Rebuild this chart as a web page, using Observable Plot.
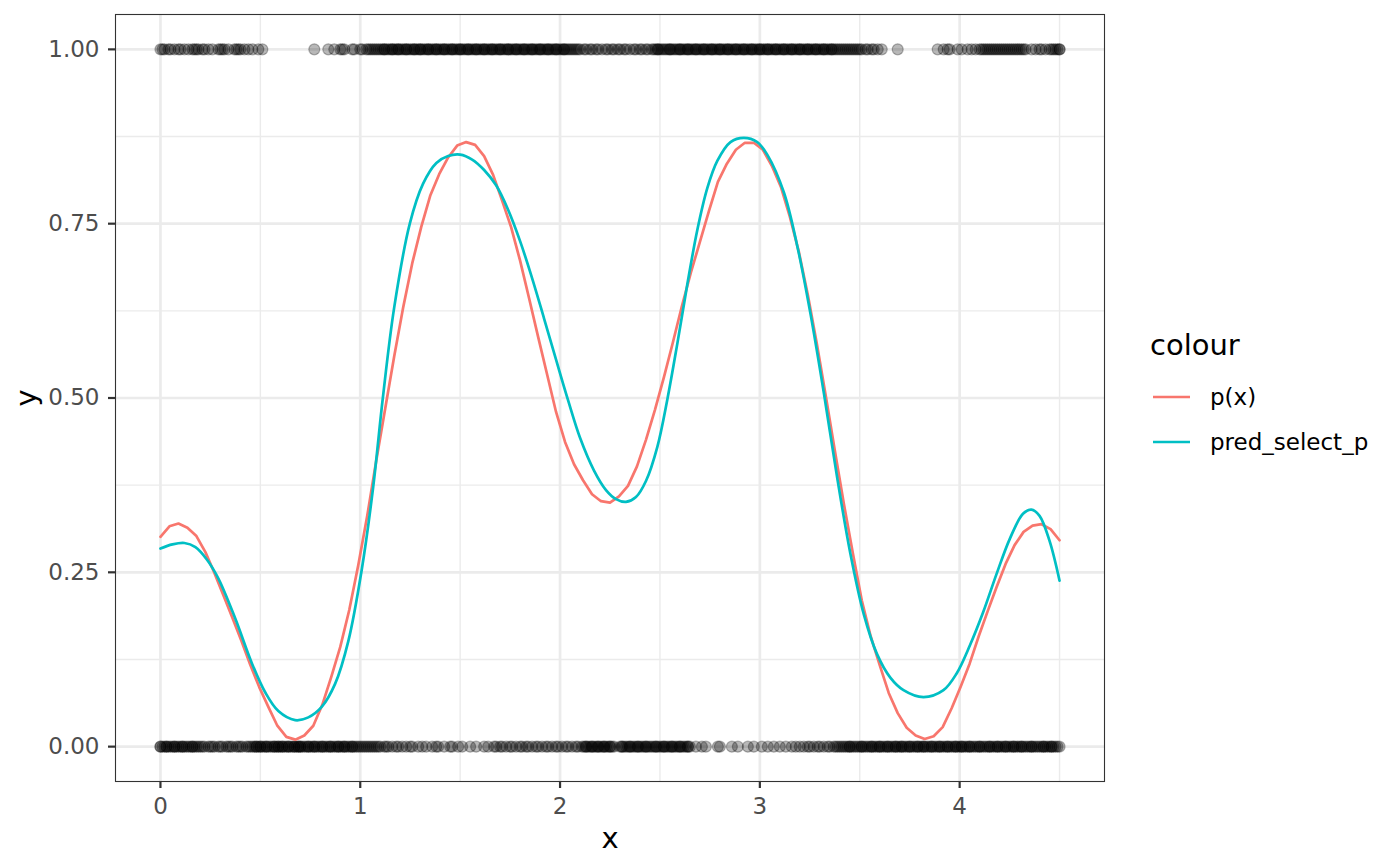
<!DOCTYPE html>
<html><head><meta charset="utf-8">
<script src="https://cdn.jsdelivr.net/npm/d3@7"></script>
<script src="https://cdn.jsdelivr.net/npm/@observablehq/plot@0.6"></script>
<style>
body{margin:0;background:#fff;}
#wrap{position:relative;width:1400px;height:866px;font-family:"DejaVu Sans",sans-serif;background:#fff;}
#chart{position:absolute;left:0;top:0;}
.lg{position:absolute;white-space:nowrap;line-height:1;color:#000;}
</style></head>
<body><div id="wrap"><div id="chart"></div><div id="legend"></div></div>
<script>
// ---- data ----
const seriesNames = ["p(x)", "pred_select_p"];
const seriesColors = ["#F8766D", "#00BFC4"];

const pX = [0.00,0.045,0.09,0.135,0.18,0.225,0.27,0.315,0.36,0.405,0.45,0.495,0.54,0.585,0.63,0.675,0.72,0.765,0.81,0.855,0.90,0.945,0.99,1.035,1.08,1.125,1.17,1.215,1.26,1.305,1.35,1.395,1.44,1.485,1.53,1.575,1.62,1.665,1.71,1.755,1.80,1.845,1.89,1.935,1.98,2.025,2.07,2.115,2.16,2.205,2.25,2.295,2.34,2.385,2.43,2.475,2.52,2.565,2.61,2.655,2.70,2.745,2.79,2.835,2.88,2.925,2.97,3.015,3.06,3.105,3.15,3.195,3.24,3.285,3.33,3.375,3.42,3.465,3.51,3.555,3.60,3.645,3.69,3.735,3.78,3.825,3.87,3.915,3.96,4.005,4.05,4.095,4.14,4.185,4.23,4.275,4.32,4.365,4.41,4.455,4.50];
const pY = [0.301,0.316,0.320,0.314,0.302,0.279,0.249,0.217,0.185,0.152,0.117,0.085,0.057,0.030,0.014,0.010,0.016,0.030,0.060,0.100,0.143,0.196,0.260,0.331,0.410,0.485,0.560,0.630,0.693,0.745,0.790,0.821,0.845,0.862,0.867,0.863,0.847,0.820,0.783,0.745,0.697,0.643,0.588,0.534,0.480,0.437,0.405,0.382,0.362,0.352,0.350,0.359,0.374,0.402,0.440,0.483,0.530,0.580,0.632,0.680,0.724,0.768,0.810,0.836,0.856,0.866,0.866,0.856,0.833,0.803,0.760,0.710,0.648,0.578,0.503,0.425,0.349,0.278,0.210,0.158,0.117,0.077,0.048,0.027,0.016,0.011,0.015,0.028,0.055,0.086,0.119,0.158,0.194,0.229,0.262,0.289,0.308,0.317,0.319,0.312,0.296];

const predX = [0.00,0.06,0.12,0.175,0.233,0.29,0.374,0.457,0.524,0.59,0.674,0.74,0.807,0.874,0.94,1.007,1.065,1.113,1.17,1.248,1.314,1.381,1.44,1.50,1.56,1.62,1.68,1.74,1.80,1.86,1.92,1.98,2.04,2.10,2.17,2.23,2.28,2.33,2.38,2.43,2.487,2.537,2.587,2.637,2.687,2.737,2.787,2.853,2.92,2.987,3.037,3.12,3.188,3.254,3.321,3.387,3.453,3.52,3.586,3.653,3.719,3.819,3.919,3.985,4.051,4.118,4.184,4.251,4.317,4.359,4.40,4.45,4.50];
const predY = [0.284,0.290,0.292,0.286,0.268,0.241,0.184,0.120,0.078,0.051,0.038,0.042,0.057,0.090,0.151,0.253,0.373,0.500,0.630,0.750,0.807,0.837,0.847,0.849,0.842,0.827,0.805,0.770,0.725,0.672,0.614,0.555,0.497,0.443,0.396,0.368,0.355,0.351,0.358,0.381,0.430,0.498,0.578,0.663,0.741,0.801,0.840,0.867,0.873,0.867,0.849,0.795,0.717,0.620,0.506,0.386,0.277,0.190,0.133,0.099,0.081,0.071,0.081,0.105,0.145,0.193,0.247,0.298,0.334,0.340,0.331,0.295,0.238];

// observations with y = 1
const yOneX = [0.00,0.01,0.02,0.04,0.05,0.07,0.09,0.10,0.12,0.14,0.16,0.17,0.18,0.19,0.21,0.22,0.24,0.26,0.29,0.30,0.31,0.32,0.34,0.37,0.38,0.39,0.40,0.42,0.44,0.46,0.49,0.51,
0.77,0.84,0.87,0.90,0.91,0.92,0.96,0.97,1.00,1.01,1.03,1.04,1.05,1.06,1.07,1.08,1.09,
1.10,1.11,1.12,1.12,1.13,1.14,1.15,1.16,1.16,1.17,1.18,1.19,1.19,
1.20,1.21,1.22,1.23,1.23,1.24,1.25,1.26,1.27,1.27,1.28,1.29,
1.30,1.30,1.31,1.32,1.33,1.34,1.34,1.35,1.36,1.37,1.38,1.38,1.39,
1.40,1.41,1.42,1.42,1.43,1.44,1.45,1.46,1.46,1.47,1.48,1.49,
1.50,1.50,1.51,1.52,1.53,1.54,1.54,1.55,1.56,1.57,1.58,1.58,1.59,
1.60,1.61,1.62,1.62,1.63,1.64,1.65,1.66,1.66,1.67,1.68,1.69,
1.70,1.70,1.71,1.72,1.73,1.74,1.74,1.75,1.76,1.77,1.78,1.78,1.79,
1.80,1.81,1.82,1.82,1.83,1.84,1.85,1.86,1.86,1.87,1.88,1.89,
1.90,1.90,1.91,1.92,1.93,1.94,1.94,1.95,1.96,1.97,1.98,1.98,1.99,
2.00,2.01,2.02,2.02,2.03,2.04,2.05,2.06,2.07,2.08,2.09,
2.10,2.12,2.13,2.15,2.16,2.18,2.19,2.21,2.23,2.24,2.26,2.27,2.29,2.30,2.32,2.33,2.35,2.37,2.38,2.40,2.41,2.43,2.44,
2.46,2.47,2.48,2.49,2.49,
2.50,2.51,2.52,2.53,2.54,2.55,2.55,2.56,2.57,2.58,2.59,
2.60,2.60,2.61,2.62,2.63,2.64,2.64,2.65,2.66,2.67,2.68,2.68,2.69,
2.70,2.71,2.72,2.72,2.73,2.74,2.75,2.76,2.76,2.77,2.78,2.79,
2.80,2.80,2.81,2.82,2.83,2.84,2.84,2.85,2.86,2.87,2.88,2.88,2.89,
2.90,2.91,2.92,2.92,2.93,2.94,2.95,2.96,2.96,2.97,2.98,2.99,
3.00,3.00,3.01,3.02,3.03,3.04,3.04,3.05,3.06,3.07,3.08,3.08,3.09,
3.10,3.11,3.12,3.12,3.13,3.14,3.15,3.16,3.16,3.17,3.18,3.19,
3.20,3.20,3.21,3.22,3.23,3.24,3.24,3.25,3.26,3.27,3.28,3.28,3.29,
3.30,3.31,3.32,3.32,3.33,3.34,3.35,3.36,3.36,3.37,3.38,3.39,
3.40,3.41,3.42,3.43,3.44,3.45,3.46,3.47,3.48,3.49,
3.50,3.51,3.53,3.54,3.56,3.57,3.59,3.61,3.69,
3.89,3.92,3.94,3.95,3.99,4.01,4.04,4.06,4.08,4.10,
4.11,4.12,4.13,4.14,4.15,4.16,4.17,4.18,4.19,4.20,4.21,4.22,4.23,4.24,4.25,4.26,4.27,4.28,4.29,4.30,4.31,4.32,4.33,
4.36,4.38,4.40,4.41,4.43,4.45,4.46,4.47,4.48,4.49,4.50,4.50];

// observations with y = 0
const yZeroX = [0.00,0.00,0.01,0.02,0.03,0.03,0.04,0.05,0.06,0.07,0.07,0.08,0.09,
0.10,0.11,0.11,0.12,0.13,0.14,0.15,0.16,0.16,0.17,0.18,0.19,
0.20,0.21,0.22,0.24,0.25,0.26,0.27,0.29,
0.30,0.31,0.33,0.34,0.35,0.36,0.38,0.39,
0.40,0.41,0.43,0.44,0.45,0.46,0.47,0.48,0.48,0.49,
0.50,0.50,0.51,0.52,0.53,0.53,0.54,0.55,0.56,0.57,0.57,0.58,0.59,0.59,
0.60,0.61,0.61,0.62,0.63,0.64,0.64,0.65,0.66,0.67,0.67,0.68,0.69,0.69,
0.70,0.70,0.71,0.72,0.73,0.74,0.74,0.75,0.76,0.77,0.77,0.78,0.79,
0.80,0.81,0.81,0.82,0.83,0.84,0.85,0.85,0.86,0.87,0.88,0.89,0.89,
0.90,0.91,0.92,0.92,0.93,0.94,0.95,0.96,0.96,0.97,0.98,0.99,
1.00,1.01,1.02,1.03,1.04,1.05,1.06,1.07,
1.08,1.09,1.10,1.12,1.13,1.14,1.16,1.18,1.19,
1.21,1.23,1.25,1.26,1.29,1.31,1.33,1.36,1.38,1.39,1.42,1.45,1.46,1.49,
1.51,1.55,1.58,1.62,1.64,
1.67,1.68,1.70,1.71,1.73,1.75,1.76,1.78,1.80,1.81,1.83,1.84,1.86,1.88,1.89,1.91,1.93,1.94,1.96,1.98,1.99,2.01,2.03,2.04,2.06,2.08,2.09,2.11,
2.12,2.13,2.13,2.14,2.15,2.16,2.16,2.17,2.18,2.19,2.19,2.20,2.21,2.22,2.22,2.23,2.24,2.25,2.25,2.26,2.27,
2.30,2.31,2.31,2.32,2.33,2.34,2.35,2.35,2.36,2.37,2.38,2.39,2.39,2.40,2.41,2.42,2.43,2.43,2.44,2.45,2.46,2.47,2.48,2.48,2.49,
2.50,2.51,2.52,2.52,2.53,2.54,2.55,2.56,2.56,2.57,2.58,2.59,2.60,2.60,2.61,2.62,2.63,2.64,2.64,2.65,
2.68,2.71,2.73,2.79,2.80,2.86,2.89,2.94,2.97,3.01,3.04,3.07,3.10,3.13,
3.16,3.18,3.20,3.22,3.24,3.25,3.27,3.29,3.30,3.32,3.34,3.35,3.37,3.38,3.39,
3.40,3.41,3.42,3.43,3.44,3.45,3.45,3.46,3.47,3.48,3.49,
3.50,3.51,3.51,3.52,3.53,3.54,3.55,3.56,3.56,3.57,3.58,3.59,
3.60,3.60,3.61,3.62,3.63,3.64,3.64,3.65,3.66,3.67,3.68,3.68,3.69,
3.70,3.71,3.71,3.72,3.73,3.74,3.75,3.75,3.76,3.77,3.78,3.79,3.79,
3.80,3.81,3.82,3.82,3.83,3.84,3.85,3.86,3.86,3.87,3.88,3.89,
3.90,3.90,3.91,3.92,3.93,3.94,3.94,3.95,3.96,3.97,3.98,3.98,3.99,
4.00,4.01,4.01,4.02,4.03,4.04,4.05,4.05,4.06,4.07,4.08,4.09,
4.10,4.10,4.11,4.12,4.13,4.14,4.15,4.15,4.16,4.17,4.18,4.19,4.19,
4.20,4.21,4.22,4.23,4.23,4.24,4.25,4.26,4.27,4.27,4.28,4.29,
4.30,4.31,4.31,4.32,4.33,4.34,4.35,4.36,4.36,4.37,4.38,4.39,
4.40,4.41,4.42,4.42,4.43,4.44,4.45,4.46,4.46,4.47,4.48,4.49,4.50];

const xMajor = [0, 1, 2, 3, 4];
const xMinor = [0.5, 1.5, 2.5, 3.5, 4.5];
const yMajor = [0, 0.25, 0.5, 0.75, 1];
const yMinor = [0.125, 0.375, 0.625, 0.875];

// ---- tables ----
const points = [
  ...yOneX.map(x => ({x, y: 1})),
  ...yZeroX.map(x => ({x, y: 0}))
];
const pLine = pX.map((x, i) => ({x, y: pY[i], series: seriesNames[0]}));
const predLine = predX.map((x, i) => ({x, y: predY[i], series: seriesNames[1]}));

const grid = "#EBEBEB";
const chart = Plot.plot({
  width: 1400, height: 866,
  marginLeft: 115, marginRight: 296, marginTop: 14, marginBottom: 85,
  style: {fontFamily: "DejaVu Sans", fontSize: "23px", background: "white", overflow: "visible"},
  x: {domain: [-0.225, 4.725]},
  y: {domain: [-0.05, 1.05]},
  color: {domain: seriesNames, range: seriesColors},
  marks: [
    Plot.ruleX(xMinor, {stroke: grid, strokeWidth: 1.4}),
    Plot.ruleY(yMinor, {stroke: grid, strokeWidth: 1.4}),
    Plot.ruleX(xMajor, {stroke: grid, strokeWidth: 2.7}),
    Plot.ruleY(yMajor, {stroke: grid, strokeWidth: 2.7}),
    Plot.dot(points, {x: "x", y: "y", r: 5.5, fill: "black", fillOpacity: 0.28, stroke: "black", strokeOpacity: 0.28, strokeWidth: 1.2}),
    Plot.line(pLine, {x: "x", y: "y", stroke: "series", strokeWidth: 2.7}),
    Plot.line(predLine, {x: "x", y: "y", stroke: "series", strokeWidth: 2.7, curve: "catmull-rom"}),
    Plot.frame({stroke: "#333333", strokeWidth: 1.1}),
    Plot.axisX(xMajor, {tickSize: 7, tickPadding: 9, stroke: "#333333", strokeWidth: 2.2, fill: "#4D4D4D", label: null, tickFormat: d => String(d)}),
    Plot.axisY(yMajor, {tickSize: 7, tickPadding: 9, stroke: "#333333", strokeWidth: 2.2, fill: "#4D4D4D", label: null, tickFormat: d3.format(".2f")}),
    Plot.axisX([], {label: "x", labelAnchor: "center", labelArrow: "none", labelOffset: 66, fontSize: 29, fill: "black"}),
    Plot.axisY([], {label: "y", labelAnchor: "center", labelArrow: "none", labelOffset: 100, fontSize: 29, fill: "black"})
  ]
});
document.getElementById("chart").appendChild(chart);

// ---- legend ----
const lg = document.getElementById("legend");
const title = document.createElement("div");
title.className = "lg";
title.textContent = "colour";
title.style.cssText = "left:1150px;top:331px;font-size:29px;";
lg.appendChild(title);
seriesNames.forEach((name, i) => {
  const cy = 397 + i * 45;
  const key = document.createElementNS("http://www.w3.org/2000/svg", "svg");
  key.setAttribute("width", 40); key.setAttribute("height", 10);
  key.style.cssText = `position:absolute;left:1152px;top:${cy - 5}px;`;
  const ln = document.createElementNS("http://www.w3.org/2000/svg", "line");
  ln.setAttribute("x1", 1); ln.setAttribute("x2", 38); ln.setAttribute("y1", 5); ln.setAttribute("y2", 5);
  ln.setAttribute("stroke", seriesColors[i]); ln.setAttribute("stroke-width", 2.7);
  key.appendChild(ln);
  lg.appendChild(key);
  const t = document.createElement("div");
  t.className = "lg";
  t.textContent = name;
  t.style.cssText = `left:1210px;top:${cy - 11}px;font-size:23px;`;
  lg.appendChild(t);
});
</script>
</body></html>
